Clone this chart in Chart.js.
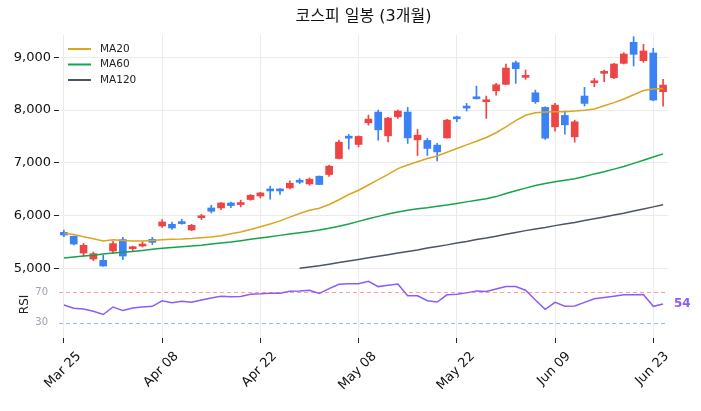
<!DOCTYPE html>
<html lang="ko">
<head>
<meta charset="utf-8">
<title>코스피 일봉 (3개월)</title>
<script src="https://cdn.jsdelivr.net/npm/chart.js@4.4.1/dist/chart.umd.min.js"></script>
<style>
  html, body { margin: 0; padding: 0; background: #fff; }
  #wrap { width: 701px; height: 411px; }
</style>
</head>
<body>
<div id="wrap"><canvas id="chart" width="701" height="411"></canvas></div>
<script>
// 거래일 (3개월)
const dates = [
  'Mar 25','Mar 26','Mar 27','Mar 28','Mar 31','Apr 01','Apr 02','Apr 03','Apr 04','Apr 07',
  'Apr 08','Apr 09','Apr 10','Apr 11','Apr 14','Apr 15','Apr 16','Apr 17','Apr 18','Apr 21',
  'Apr 22','Apr 23','Apr 24','Apr 25','Apr 28','Apr 29','Apr 30','May 01','May 02','May 07',
  'May 08','May 09','May 12','May 13','May 14','May 15','May 16','May 19','May 20','May 21',
  'May 22','May 23','May 26','May 27','May 28','May 29','May 30','Jun 02','Jun 04','Jun 05',
  'Jun 09','Jun 10','Jun 11','Jun 12','Jun 13','Jun 16','Jun 17','Jun 18','Jun 19','Jun 20',
  'Jun 23','Jun 24'
];

const opens = [
  5683,5607,5290,5177,5152,5329,5545,5372,5423,5550,
  5803,5835,5886,5727,5960,6145,6145,6239,6209,6304,
  6372,6494,6499,6524,6651,6600,6746,6778,7082,7505,
  7348,7758,7961,7511,7872,7961,7435,7424,7335,7473,
  7866,8075,8246,8157,8365,8487,8897,8619,8327,8050,
  7682,7898,7492,8265,8517,8695,8612,8885,9284,8935,
  9081,8346
];
const highs = [
  5727,5615,5475,5309,5247,5512,5588,5423,5499,5588,
  5924,5879,5930,5835,6025,6196,6247,6258,6291,6399,
  6442,6556,6512,6657,6702,6714,6750,6955,7429,7538,
  7511,7904,7999,7860,7999,8050,7633,7462,7367,7822,
  7885,8126,8454,8265,8505,8872,8929,8758,8378,8062,
  8126,7986,7809,8430,8600,8758,8885,9087,9390,9246,
  9170,8581
];
const lows = [
  5602,5442,5228,5146,5040,5279,5165,5329,5404,5450,
  5778,5740,5835,5715,5924,6050,6114,6152,6164,6291,
  6334,6310,6399,6505,6607,6575,6585,6740,7075,7259,
  7302,7714,7429,7397,7841,7367,7139,7139,7037,7465,
  7777,7980,8210,7841,8284,8480,8505,8581,8126,7443,
  7600,7543,7391,8075,8441,8536,8593,8872,8834,8904,
  8176,8075
];
const closes = [
  5632,5461,5437,5279,5044,5469,5234,5388,5455,5493,
  5879,5765,5848,5816,5975,6082,6239,6190,6234,6385,
  6429,6467,6467,6613,6632,6689,6589,6936,7391,7467,
  7500,7828,7625,7847,7980,7473,7524,7272,7207,7809,
  7834,8037,8214,8189,8479,8796,8783,8650,8157,7467,
  8094,7720,7777,8126,8549,8726,8872,9062,9056,9119,
  8189,8473
];

const ma20 = [
  5665,5640,5600,5560,5518,5540,5530,5520,5520,5530,
  5540,5550,5555,5565,5580,5595,5620,5655,5690,5735,
  5790,5840,5900,5970,6040,6100,6140,6210,6300,6400,
  6480,6580,6680,6780,6890,6960,7020,7080,7130,7200,
  7270,7340,7410,7480,7570,7680,7800,7900,7950,7965,
  7970,7970,7980,7995,8020,8080,8140,8210,8290,8370,
  8400,8410
];
const ma60 = [
  5196,5215,5235,5250,5270,5290,5305,5320,5340,5360,
  5380,5395,5410,5425,5440,5460,5480,5500,5525,5550,
  5575,5600,5625,5650,5675,5700,5725,5760,5800,5840,
  5890,5940,5985,6030,6070,6100,6130,6150,6175,6200,
  6230,6260,6290,6320,6360,6420,6470,6520,6570,6610,
  6640,6670,6700,6740,6790,6830,6880,6930,6990,7050,
  7110,7170
];
const ma120 = [
  null,null,null,null,null,null,null,null,null,null,
  null,null,null,null,null,null,null,null,null,null,
  null,null,null,null,5000,5025,5050,5080,5110,5140,
  5170,5200,5230,5260,5290,5320,5350,5385,5415,5445,
  5480,5510,5545,5575,5610,5645,5680,5715,5745,5775,
  5810,5840,5870,5905,5940,5975,6010,6045,6085,6125,
  6165,6205
];
const rsi = [
  53.2,48.9,48.1,45.0,40.8,50.6,45.9,49.4,50.6,51.5,
  58.8,56.2,58.0,56.7,59.7,62.3,64.8,64.0,64.4,67.4,
  67.8,68.7,68.7,71.3,71.7,72.6,68.3,74.7,80.3,81.2,
  81.2,84.2,77.3,79.0,80.8,65.3,65.3,58.8,57.1,66.6,
  67.4,69.1,71.7,70.9,74.3,77.3,77.3,72.6,59.7,47.6,
  56.7,51.5,51.9,56.7,61.4,63.1,64.8,66.6,66.6,67.0,
  51.5,54.4
];

const priceTicks = [5000, 6000, 7000, 8000, 9000];
const rsiTicks = [30, 70];
const rsiLevels = [70, 30];

const UP = '#ef4444', DOWN = '#3b82f6';
const FONT = "'DejaVu Sans', 'Noto Sans CJK KR', sans-serif";
const candleColor = (ctx) => closes[ctx.dataIndex] >= opens[ctx.dataIndex] ? UP : DOWN;

// 제목, 범례, RSI 보조선/라벨, 회전된 날짜 라벨
const extras = {
  id: 'extras',
  afterDatasetsDraw(chart) {
    const { ctx, chartArea: a, scales } = chart;
    const r = scales.rsi;
    ctx.save();
    ctx.lineWidth = 1;
    ctx.setLineDash([4, 3]);
    rsiLevels.forEach(v => {
      const y = Math.round(r.getPixelForValue(v)) + 0.5;
      ctx.strokeStyle = v === 70 ? 'rgba(239,68,68,0.5)' : 'rgba(59,130,246,0.55)';
      ctx.beginPath(); ctx.moveTo(a.left, y); ctx.lineTo(a.right, y); ctx.stroke();
    });
    ctx.restore();
  },
  afterDraw(chart) {
    const { ctx, chartArea: a, scales } = chart;
    const x = scales.x, r = scales.rsi;
    ctx.save();

    // 제목
    ctx.fillStyle = '#111';
    ctx.font = '16px ' + FONT;
    ctx.textAlign = 'center'; ctx.textBaseline = 'middle';
    ctx.fillText('코스피 일봉 (3개월)', (a.left + a.right) / 2, 17);

    // 범례
    const items = chart.data.datasets.filter(d => d.type === 'line' && d.yAxisID === 'y');
    ctx.font = '10.5px ' + FONT;
    ctx.textAlign = 'left';
    items.forEach((d, i) => {
      const y = 49 + i * 15.5;
      ctx.strokeStyle = d.borderColor; ctx.lineWidth = 2;
      ctx.beginPath(); ctx.moveTo(68, y); ctx.lineTo(91, y); ctx.stroke();
      ctx.fillStyle = '#222';
      ctx.fillText(d.label, 100, y);
    });

    // RSI 축 이름
    ctx.save();
    ctx.translate(25, (r.top + r.bottom) / 2 - 3);
    ctx.rotate(-Math.PI / 2);
    ctx.font = '12px ' + FONT;
    ctx.textAlign = 'center';
    ctx.fillStyle = '#222';
    ctx.fillText('RSI', 0, 0);
    ctx.restore();

    // 마지막 RSI 값
    const last = rsi.length - 1;
    ctx.font = 'bold 12px ' + FONT;
    ctx.fillStyle = '#8b5cf6';
    ctx.textAlign = 'left';
    ctx.fillText(String(Math.round(rsi[last])), a.right + 6, r.getPixelForValue(rsi[last]));

    // 날짜 라벨 (45도, 가운데 정렬)
    ctx.font = '13px ' + FONT;
    ctx.fillStyle = '#111';
    ctx.textAlign = 'center';
    x.ticks.forEach(t => {
      const lbl = dates[t.value];
      const w = ctx.measureText(lbl).width;
      const half = (w + 12) * Math.SQRT1_2 / 2;
      ctx.save();
      ctx.translate(x.getPixelForValue(t.value) - 1, a.bottom + 12 + half);
      ctx.rotate(-Math.PI / 4);
      ctx.fillText(lbl, 0, 0);
      ctx.restore();
    });
    ctx.restore();
  }
};

Chart.defaults.font.family = FONT;

new Chart(document.getElementById('chart'), {
  type: 'bar',
  plugins: [extras],
  data: {
    labels: dates,
    datasets: [
      { type: 'line', label: 'MA20', data: ma20, borderColor: '#daa520', borderWidth: 1.5, pointRadius: 0, yAxisID: 'y', order: 1 },
      { type: 'line', label: 'MA60', data: ma60, borderColor: '#16a34a', borderWidth: 1.5, pointRadius: 0, yAxisID: 'y', order: 1 },
      { type: 'line', label: 'MA120', data: ma120, borderColor: '#4b5563', borderWidth: 1.5, pointRadius: 0, yAxisID: 'y', order: 1 },
      { label: 'wick', data: lows.map((l, i) => [l, highs[i]]), backgroundColor: candleColor, barThickness: 1, grouped: false, yAxisID: 'y', order: 4 },
      { label: 'body', data: opens.map((o, i) => [o, closes[i]]), backgroundColor: candleColor, barThickness: 7, minBarLength: 2, grouped: false, yAxisID: 'y', order: 3 },
      { type: 'line', label: 'RSI', data: rsi, borderColor: '#8b5cf6', borderWidth: 1.5, pointRadius: 0, yAxisID: 'rsi', order: 1 }
    ]
  },
  options: {
    responsive: false,
    animation: false,
    devicePixelRatio: 1,
    layout: { padding: { top: 35, right: 33, left: 0, bottom: 0 } },
    plugins: { legend: { display: false }, tooltip: { enabled: false } },
    scales: {
      x: {
        type: 'category', offset: true,
        grid: { color: '#ebebeb', tickColor: '#222', tickLength: 5, offset: false },
        border: { display: false },
        ticks: { display: false, autoSkip: false },
        afterBuildTicks: s => { s.ticks = s.ticks.filter(t => t.value % 10 === 0); },
        afterFit: s => { s.height = 73; }
      },
      y: {
        position: 'left', stack: 'panel', stackWeight: 3.96, weight: 2,
        min: 4838, max: 9422,
        afterBuildTicks: s => { s.ticks = priceTicks.map(v => ({ value: v })); },
        ticks: { callback: v => v.toLocaleString('en-US'), color: '#111', font: { size: 13 }, padding: 3 },
        grid: { color: '#ebebeb', tickColor: '#222', tickLength: 5 },
        border: { display: false },
        afterFit: s => { s.width = 59; }
      },
      rsi: {
        position: 'left', stack: 'panel', stackWeight: 1, weight: 1,
        min: 10, max: 90,
        afterBuildTicks: s => { s.ticks = rsiTicks.map(v => ({ value: v })); },
        ticks: { color: '#9ca3af', font: { size: 10 }, padding: 11 },
        grid: { drawOnChartArea: false, drawTicks: false },
        border: { display: false },
        afterFit: s => { s.width = 59; }
      }
    }
  }
});
</script>
</body>
</html>
